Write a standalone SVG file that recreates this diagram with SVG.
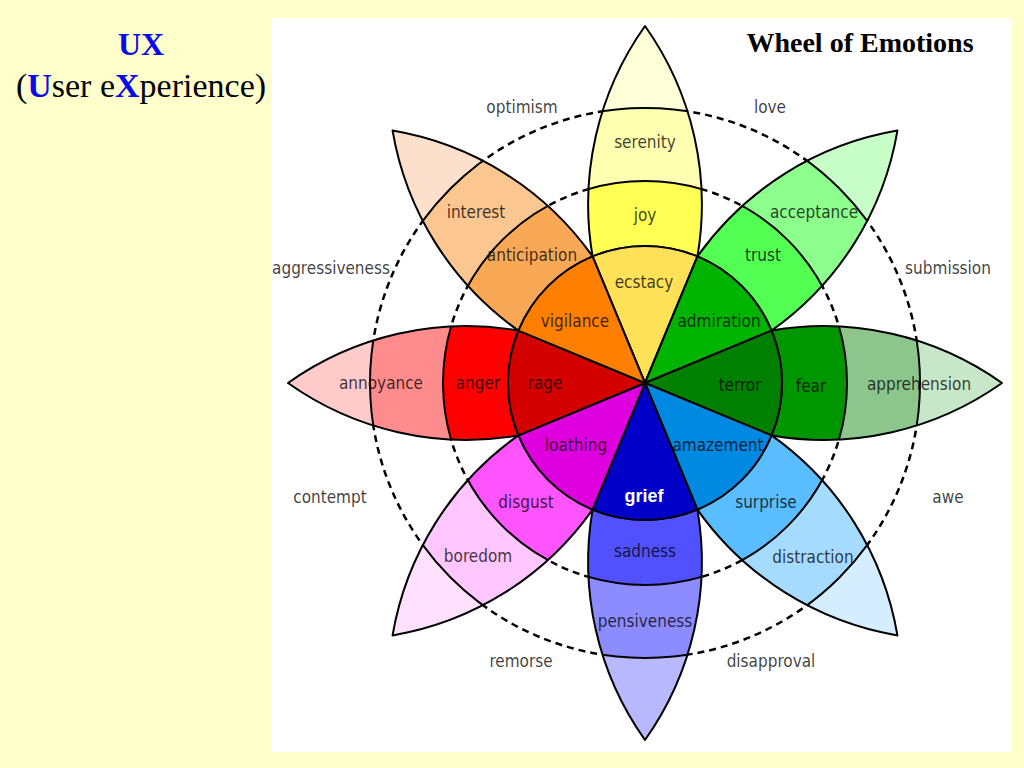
<svg xmlns="http://www.w3.org/2000/svg" xmlns:xlink="http://www.w3.org/1999/xlink" width="1024" height="768" viewBox="0 0 1024 768">
<style>
.ol{stroke:#000;stroke-width:2;stroke-linejoin:round}
.ring{fill:none;stroke:#000;stroke-width:2.5;stroke-dasharray:7 5}
.lb{font-family:'DejaVu Sans Condensed','DejaVu Sans',sans-serif;font-stretch:condensed;font-size:17px;fill:#000;fill-opacity:0.76;text-anchor:middle}
.ttl{font-family:'Liberation Serif','Times New Roman',serif;font-weight:bold}
.blue{fill:#0A0AE8;font-weight:bold}
</style>
<defs>
<path id="outer" d="M-52.43,-126.57 A308,308 0 0 1 0,-357 A308,308 0 0 1 52.43,-126.57 A137,137 0 0 0 -52.43,-126.57 Z"/>
<clipPath id="oc"><use xlink:href="#outer"/></clipPath>
<path id="wedge" d="M0,0 L-52.43,-126.57 A137,137 0 0 1 52.43,-126.57 Z"/>
</defs>
<rect width="1024" height="768" fill="#FFFFCC"/>
<rect x="272" y="18" width="740" height="734" fill="#FFFFFF"/>

<g id="heading">
<text class="ttl" x="141" y="55" font-size="32" text-anchor="middle"><tspan class="blue">UX</tspan></text>
<text class="ttl" x="141" y="97" font-size="34" text-anchor="middle" style="font-weight:normal">(<tspan class="blue">U</tspan>ser e<tspan class="blue">X</tspan>perience)</text>
<text class="ttl" x="860" y="52" font-size="28" text-anchor="middle">Wheel of Emotions</text>
</g>

<g id="connectors">
<circle cx="645" cy="383" r="202" class="ring"/>
<circle cx="645" cy="383" r="275" class="ring"/>
</g>

<g id="petal-joy">
<g transform="translate(645,383) rotate(0)">
<use xlink:href="#outer" fill="#FFFFD8"/>
<g clip-path="url(#oc)"><circle r="275" fill="#FFFFB1" class="ol"/><circle r="202" fill="#FFFF54" class="ol"/></g>
<use xlink:href="#outer" fill="none" class="ol"/>
<use xlink:href="#wedge" fill="#FFE158" class="ol"/>
</g>
<text class="lb" x="645" y="148">serenity</text>
<text class="lb" x="645" y="221">joy</text>
<text class="lb" x="644" y="288">ecstacy</text>
</g>

<g id="petal-trust">
<g transform="translate(645,383) rotate(45)">
<use xlink:href="#outer" fill="#C8FFC8"/>
<g clip-path="url(#oc)"><circle r="275" fill="#8CFF8C" class="ol"/><circle r="202" fill="#54FF54" class="ol"/></g>
<use xlink:href="#outer" fill="none" class="ol"/>
<use xlink:href="#wedge" fill="#00B400" class="ol"/>
</g>
<text class="lb" x="814" y="218">acceptance</text>
<text class="lb" x="763" y="261">trust</text>
<text class="lb" x="719" y="327">admiration</text>
</g>

<g id="petal-fear">
<g transform="translate(645,383) rotate(90)">
<use xlink:href="#outer" fill="#C8E6C8"/>
<g clip-path="url(#oc)"><circle r="275" fill="#8CC68C" class="ol"/><circle r="202" fill="#009600" class="ol"/></g>
<use xlink:href="#outer" fill="none" class="ol"/>
<use xlink:href="#wedge" fill="#008000" class="ol"/>
</g>
<text class="lb" x="740" y="391">terror</text>
<text class="lb" x="811" y="392">fear</text>
<text class="lb" x="919" y="390">apprehension</text>
</g>

<g id="petal-surprise">
<g transform="translate(645,383) rotate(135)">
<use xlink:href="#outer" fill="#D4EEFF"/>
<g clip-path="url(#oc)"><circle r="275" fill="#A5DBFF" class="ol"/><circle r="202" fill="#59BDFF" class="ol"/></g>
<use xlink:href="#outer" fill="none" class="ol"/>
<use xlink:href="#wedge" fill="#0089E0" class="ol"/>
</g>
<text class="lb" x="718" y="451">amazement</text>
<text class="lb" x="766" y="508">surprise</text>
<text class="lb" x="813" y="563">distraction</text>
</g>

<g id="petal-sadness">
<g transform="translate(645,383) rotate(180)">
<use xlink:href="#outer" fill="#B8B8FF"/>
<g clip-path="url(#oc)"><circle r="275" fill="#8C8CFF" class="ol"/><circle r="202" fill="#5151FF" class="ol"/></g>
<use xlink:href="#outer" fill="none" class="ol"/>
<use xlink:href="#wedge" fill="#0000C8" class="ol"/>
</g>
<text x="644" y="502" font-family="'Liberation Sans',Arial,sans-serif" font-weight="bold" font-size="18" fill="#FFFFFF" text-anchor="middle">grief</text>
<text class="lb" x="645" y="557">sadness</text>
<text class="lb" x="645" y="627">pensiveness</text>
</g>

<g id="petal-disgust">
<g transform="translate(645,383) rotate(225)">
<use xlink:href="#outer" fill="#FFE0FF"/>
<g clip-path="url(#oc)"><circle r="275" fill="#FFC6FF" class="ol"/><circle r="202" fill="#FF54FF" class="ol"/></g>
<use xlink:href="#outer" fill="none" class="ol"/>
<use xlink:href="#wedge" fill="#DE00DE" class="ol"/>
</g>
<text class="lb" x="576" y="451">loathing</text>
<text class="lb" x="526" y="508">disgust</text>
<text class="lb" x="478" y="562">boredom</text>
</g>

<g id="petal-anger">
<g transform="translate(645,383) rotate(270)">
<use xlink:href="#outer" fill="#FFCACA"/>
<g clip-path="url(#oc)"><circle r="275" fill="#FF8C8C" class="ol"/><circle r="202" fill="#FF0000" class="ol"/></g>
<use xlink:href="#outer" fill="none" class="ol"/>
<use xlink:href="#wedge" fill="#D40000" class="ol"/>
</g>
<text class="lb" x="381" y="389">annoyance</text>
<text class="lb" x="478" y="389">anger</text>
<text class="lb" x="545" y="389">rage</text>
</g>

<g id="petal-anticipation">
<g transform="translate(645,383) rotate(315)">
<use xlink:href="#outer" fill="#FDE0CC"/>
<g clip-path="url(#oc)"><circle r="275" fill="#FBC690" class="ol"/><circle r="202" fill="#F9A856" class="ol"/></g>
<use xlink:href="#outer" fill="none" class="ol"/>
<use xlink:href="#wedge" fill="#FF7F00" class="ol"/>
</g>
<text class="lb" x="476" y="218">interest</text>
<text class="lb" x="532" y="261">anticipation</text>
<text class="lb" x="575" y="327">vigilance</text>
</g>

<g id="dyads">
<text class="lb" x="522" y="113">optimism</text>
<text class="lb" x="770" y="113">love</text>
<text class="lb" x="331" y="274">aggressiveness</text>
<text class="lb" x="948" y="274">submission</text>
<text class="lb" x="330" y="503">contempt</text>
<text class="lb" x="948" y="503">awe</text>
<text class="lb" x="521" y="667">remorse</text>
<text class="lb" x="771" y="667">disapproval</text>
</g>
</svg>
